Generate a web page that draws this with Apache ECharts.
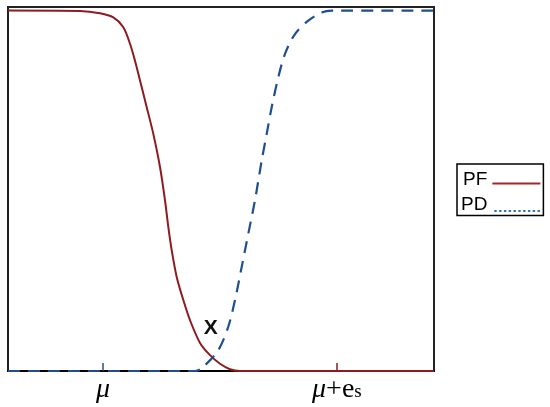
<!DOCTYPE html>
<html><head><meta charset="utf-8">
<script src="https://cdn.jsdelivr.net/npm/echarts@6/dist/echarts.min.js"></script>
<style>html,body{margin:0;padding:0;background:#fff}#c{width:550px;height:407px}</style>
</head><body><div id="c"></div>
<script>
// PF curve (x in 0..100 units across plot, y probability 0..1)
const pfX = [0, 16.9, 21.60, 24.72, 27.07, 28.64, 29.81, 30.99, 32.56, 34.11, 35.68, 36.85, 37.63, 38.43, 39.60, 41.15, 42.72, 45.07, 47.42, 49.77, 52.11, 54.46, 59.15, 100];
const pfY = [1.0, 0.999, 0.9925, 0.981, 0.954, 0.908, 0.861, 0.806, 0.732, 0.658, 0.566, 0.474, 0.400, 0.335, 0.261, 0.197, 0.141, 0.078, 0.044, 0.020, 0.005, 0, 0, 0];
// PD curve
const pdX = [0, 43.9, 45.47, 49.37, 51.71, 53.29, 54.86, 56.41, 57.98, 59.55, 60.73, 61.90, 63.45, 65.02, 67.37, 70.49, 73.64, 75.99, 100];
const pdY = [0, 0, 0.0075, 0.058, 0.123, 0.197, 0.289, 0.381, 0.474, 0.584, 0.658, 0.732, 0.815, 0.880, 0.935, 0.972, 0.995, 1.0, 1.0];
const tickPos = [22.3, 77.2];
const tickLabels = ['μ', 'μ+es'];
const seriesNames = ['PF', 'PD'];
const markX = [47.6, 0.119];
const markText = 'X';

const RED = '#8e1b1f', BLUE = '#1f4f8f';
const pf = pfX.map((x, i) => [x, pfY[i]]);
const pd = pdX.map((x, i) => [x, pdY[i]]);

const solidIcon = 'path://M0,0L0.01,0L0.01,0.01ZM0,13L50,13L50,15L0,15ZM0,20L0.01,20L0.01,20.01Z';
let dots = 'M0,0L0.01,0L0.01,0.01Z';
for (let k = 0; k < 10; k++) { const a = 2 + k * 5; dots += 'M' + a + ',15.5L' + (a + 2.5) + ',15.5L' + (a + 2.5) + ',17.5L' + a + ',17.5Z'; }
dots += 'M50,20L50.01,20L50.01,20.01Z';
const dotIcon = 'path://' + dots;

const chart = echarts.init(document.getElementById('c'), null, {renderer: 'canvas'});
chart.setOption({
  animation: false,
  grid: {left: 8, top: 7, right: 116, bottom: 36, show: true, borderColor: '#222', borderWidth: 2, backgroundColor: 'transparent'},
  xAxis: [
    {type: 'value', min: 0, max: 100, position: 'bottom',
     axisLine: {show: true, lineStyle: {color: '#000', width: 2}},
     axisTick: {show: true, inside: true, length: 8, customValues: [tickPos[0]], lineStyle: {color: BLUE, width: 1.5}},
     axisLabel: {show: true, customValues: [tickPos[0]], margin: 5, formatter: () => tickLabels[0],
       fontFamily: 'Liberation Serif', fontStyle: 'italic', fontSize: 28, color: '#000'},
     splitLine: {show: false}},
    {type: 'value', min: 0, max: 100, position: 'bottom',
     axisLine: {show: false},
     axisTick: {show: true, inside: true, length: 8, customValues: [tickPos[1]], lineStyle: {color: RED, width: 1.5}},
     axisLabel: {show: true, customValues: [tickPos[1]], margin: 5,
       formatter: () => '{i|' + tickLabels[1].slice(0, 1) + '}{n|' + tickLabels[1].slice(1, 3) + '}{s|' + tickLabels[1].slice(3) + '}',
       rich: {
         i: {fontFamily: 'Liberation Serif', fontStyle: 'italic', fontSize: 28, color: '#000'},
         n: {fontFamily: 'Liberation Serif', fontSize: 28, color: '#000'},
         s: {fontFamily: 'Liberation Serif', fontSize: 19, color: '#000', verticalAlign: 'bottom', padding: [0, 0, 2, 0]}
       }},
     splitLine: {show: false}}
  ],
  yAxis: {type: 'value', min: 0, max: 1.01, show: false, splitLine: {show: false}},
  legend: {
    orient: 'vertical', left: 457, top: 164,
    align: 'right', itemWidth: 48, itemHeight: 20, itemGap: 6,
    padding: [6, 3, 1, 4],
    borderColor: '#000', borderWidth: 1.5,
    textStyle: {fontFamily: 'Liberation Sans', fontSize: 19, color: '#000'},
    data: [
      {name: seriesNames[0], icon: solidIcon, itemStyle: {color: '#a3262a'}},
      {name: seriesNames[1], icon: dotIcon, itemStyle: {color: '#2e75b6'}}
    ]
  },
  series: [
    {name: seriesNames[0], type: 'line', data: pf, smooth: 0.3, showSymbol: false, symbol: 'none',
     lineStyle: {color: RED, width: 2}, itemStyle: {color: RED}, z: 3,
     markPoint: {symbol: 'circle', symbolSize: 0, silent: true, data: [{coord: markX, value: markText,
       label: {show: true, formatter: markText, fontFamily: 'Liberation Sans', fontWeight: 'bold', fontSize: 21, color: '#111', position: 'inside'}}]}},
    {name: seriesNames[1], type: 'line', data: pd, smooth: 0.3, showSymbol: false, symbol: 'none',
     lineStyle: {color: BLUE, width: 2.2, type: [12, 8]}, itemStyle: {color: BLUE}, z: 4}
  ]
});
</script></body></html>
